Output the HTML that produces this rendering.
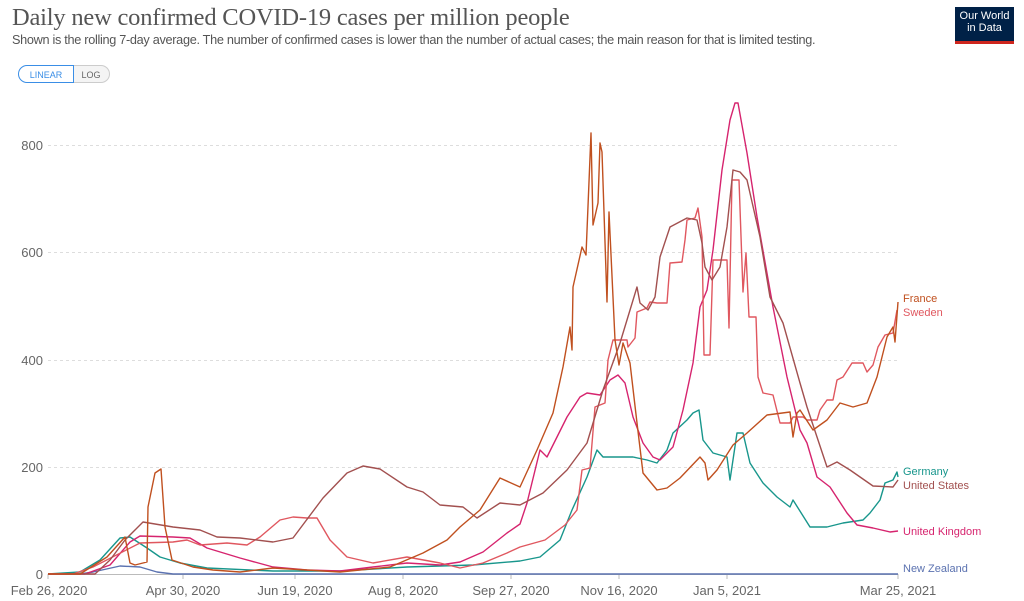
<!DOCTYPE html>
<html><head><meta charset="utf-8"><style>
body{margin:0;background:#fff;width:1024px;height:601px;overflow:hidden;font-family:"Liberation Sans",sans-serif;position:relative}
.t{position:absolute;left:12px;top:4px;font-family:"Liberation Serif",serif;font-size:24.5px;color:#555;letter-spacing:-0.2px}
.s{position:absolute;left:12px;top:33px;font-size:12.7px;color:#555;letter-spacing:-0.3px}
.logo{position:absolute;left:955px;top:7px;width:59px;height:37px;background:#002147;color:#fff;font-size:11px;line-height:12px;text-align:center;padding-top:3px;box-sizing:border-box;border-bottom:3px solid #ce261e}
.b{position:absolute;top:65px;height:18px;font-size:9px;line-height:18px;text-align:center;box-sizing:border-box}
</style></head><body>
<div class="t">Daily new confirmed COVID-19 cases per million people</div>
<div class="s">Shown is the rolling 7-day average. The number of confirmed cases is lower than the number of actual cases; the main reason for that is limited testing.</div>
<div class="logo">Our World<br>in Data</div>
<div class="b" style="left:73px;width:37px;border:1px solid #ccc;border-left:none;border-radius:0 9px 9px 0;background:#f4f4f4;color:#666">LOG</div>
<div class="b" style="left:18px;width:56px;border:1px solid #3a8ee6;border-radius:9px 0 0 9px;color:#3a8ee6;background:#fff">LINEAR</div>
<svg width="1024" height="601" style="position:absolute;left:0;top:0" font-family="Liberation Sans, sans-serif">
<g stroke="#ddd" stroke-dasharray="3,3" stroke-width="1">
<line x1="48" x2="898" y1="145.5" y2="145.5"/><line x1="48" x2="898" y1="252.5" y2="252.5"/><line x1="48" x2="898" y1="360.5" y2="360.5"/><line x1="48" x2="898" y1="467.5" y2="467.5"/>
</g>
<line x1="48" x2="898" y1="574.5" y2="574.5" stroke="#bbb"/>
<g fill="#666" font-size="13" text-anchor="end">
<text x="43" y="150">800</text><text x="43" y="257">600</text><text x="43" y="365">400</text><text x="43" y="472">200</text><text x="43" y="579">0</text>
</g>
<g stroke="#bbb"><line x1="48" x2="48" y1="574" y2="579"/><line x1="183" x2="183" y1="574" y2="579"/><line x1="295" x2="295" y1="574" y2="579"/><line x1="403" x2="403" y1="574" y2="579"/><line x1="511" x2="511" y1="574" y2="579"/><line x1="619" x2="619" y1="574" y2="579"/><line x1="727" x2="727" y1="574" y2="579"/><line x1="898" x2="898" y1="574" y2="579"/></g>
<g fill="#666" font-size="13" text-anchor="middle">
<text x="49" y="595">Feb 26, 2020</text><text x="183" y="595">Apr 30, 2020</text><text x="295" y="595">Jun 19, 2020</text><text x="403" y="595">Aug 8, 2020</text><text x="511" y="595">Sep 27, 2020</text><text x="619" y="595">Nov 16, 2020</text><text x="727" y="595">Jan 5, 2021</text><text x="898" y="595">Mar 25, 2021</text>
</g>
<g fill="none" stroke-width="1.4" stroke-linejoin="round">
<polyline stroke="#5b72b0" points="48,574 80,574 93,572 120,566 140,567 157,572 173,574 898,574"/>
<polyline stroke="#18968c" points="48,574 80,572 100,560 120,538 130,537 147,548 160,557 180,563 207,568 273,571 340,571 407,567 473,565 520,561 540,557 560,540 572,510 587,477 597,450 603,457 610,457 620,457 633,457 647,460 657,463 667,450 673,433 687,420 693,413 699,410 703,440 713,453 727,457 730,480 737,433 743,433 750,463 763,483 777,497 790,507 793,500 810,527 827,527 843,523 863,520 870,513 880,500 885,483 893,480 897,472 898,477"/>
<polyline stroke="#d6246e" points="48,574 85,574 110,565 130,542 140,536 173,537 190,538 207,548 240,558 273,567 307,570 340,571 373,567 407,563 440,565 460,562 483,552 507,533 520,524 527,503 540,450 547,457 567,417 580,397 587,393 600,395 610,380 618,375 625,383 633,417 643,443 653,457 660,460 673,447 683,410 693,363 700,307 707,290 713,250 722,170 730,120 735,103 738,103 747,153 757,217 773,307 787,377 800,430 807,443 817,477 830,487 847,513 857,525 873,528 890,532 898,531"/>
<polyline stroke="#e0575f" points="48,574 73,574 93,567 140,543 173,542 187,540 200,545 227,543 247,545 260,537 280,520 293,517 307,518 317,518 330,540 347,557 373,563 407,557 440,563 460,568 483,563 507,553 520,547 545,540 565,525 577,510 582,470 590,468 595,407 605,403 608,360 613,340 627,340 628,347 635,338 637,312 647,308 650,302 657,303 667,303 670,263 682,262 685,240 687,220 695,218 698,208 702,237 704,355 710,355 713,260 727,260 729,328 732,180 739,180 743,292 746,253 749,317 756,317 758,377 763,393 773,395 780,423 790,423 793,417 803,417 807,420 817,420 820,410 827,400 833,400 837,380 843,377 852,363 863,363 867,372 873,365 878,347 885,335 893,333 897,310"/>
<polyline stroke="#a2504f" points="48,574 95,574 110,560 125,540 143,522 173,527 200,530 217,537 240,538 273,542 293,538 323,498 347,473 363,466 380,469 407,487 423,492 440,505 463,507 477,518 500,503 520,505 543,493 567,470 587,443 603,390 620,343 637,287 640,303 648,310 655,297 660,257 670,227 687,218 697,220 702,243 705,267 712,280 720,267 727,227 733,170 740,172 747,180 760,237 770,297 783,323 800,383 807,407 827,467 837,462 850,470 873,486 893,487 898,480"/>
<polyline stroke="#c0501f" points="48,574 80,574 107,557 125,537 130,563 135,565 147,562 148,507 155,473 161,469 165,527 172,560 193,567 213,570 240,572 273,568 340,572 390,567 423,553 447,540 460,527 480,510 500,478 520,487 537,450 553,413 563,367 570,327 572,350 573,287 582,247 586,255 591,133 593,225 598,203 600,143 602,152 607,302 609,212 615,340 619,365 623,343 630,363 637,423 643,473 657,490 667,488 680,478 700,457 705,463 708,480 717,470 733,445 747,433 767,415 790,412 793,437 797,413 800,410 813,430 827,420 840,403 853,407 867,403 877,377 887,337 893,327 895,342 898,302"/>
</g>
<g font-size="11">
<text x="903" y="302" fill="#c0501f">France</text>
<text x="903" y="316" fill="#e0575f">Sweden</text>
<text x="903" y="475" fill="#18968c">Germany</text>
<text x="903" y="489" fill="#a2504f">United States</text>
<text x="903" y="535" fill="#d6246e">United Kingdom</text>
<text x="903" y="572" fill="#5b72b0">New Zealand</text>
</g>
</svg>
</body></html>
